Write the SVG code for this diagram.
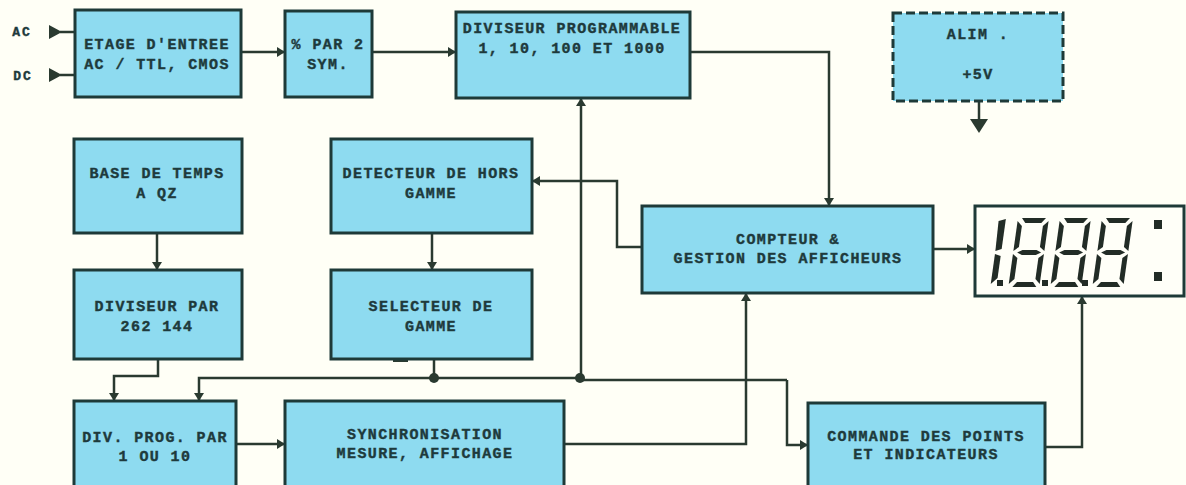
<svg xmlns="http://www.w3.org/2000/svg" xmlns:xlink="http://www.w3.org/1999/xlink" width="1186" height="485" viewBox="0 0 1186 485">
<style>
.b{fill:#8edbf0;stroke:#1e3a38;stroke-width:3}
.d{stroke-dasharray:9 4}
.w{fill:#fffff8}
text{font-family:"Liberation Mono","DejaVu Sans Mono",monospace;font-weight:700;font-size:15px;letter-spacing:1.4px;fill:#1e3a3c;text-anchor:middle;stroke:#1e3a3c;stroke-width:.4px}
text.s{font-size:13px;letter-spacing:2px}
.c{fill:none;stroke:#2a3a30;stroke-width:2.5}
.f{fill:#2a3a30}
.g{fill:#222c26}
</style>
<defs>
<marker id="a" markerUnits="userSpaceOnUse" markerWidth="9" markerHeight="10" refX="8" refY="5" orient="auto"><path d="M0 0L8 5L0 10Z" fill="#2a3a30"/></marker>
<g id="eight" class="g">
<polygon points="4,0 28,0 24,5 8,5"/>
<polygon points="0,3 5,8 5,29 0,33"/>
<polygon points="31,3 26,8 26,29 31,33"/>
<polygon points="4,34.5 9,32 23,32 28,34.5 23,37 9,37"/>
<polygon points="0,36 5,40 5,61 0,66"/>
<polygon points="31,36 26,40 26,61 31,66"/>
<polygon points="4,69 28,69 24,64 8,64"/>
</g>
</defs>
<rect width="1186" height="485" fill="#fffff6"/>
<g id="connectors">
<path class="c" d="M60 32H75M60 75H75"/>
<path class="f" d="M49 25L62 32L49 39ZM49 68L62 75L49 82Z"/>
<path class="c" marker-end="url(#a)" d="M241 52H285"/>
<path class="c" marker-end="url(#a)" d="M372 52H456"/>
<path class="c" marker-end="url(#a)" d="M690 52H829V206"/>
<path class="c" d="M979 101V120"/>
<path class="f" d="M970 119H988L979 133Z"/>
<path class="c" marker-end="url(#a)" d="M581 378V98"/>
<path class="c" marker-end="url(#a)" d="M642 247H617V181H532"/>
<path class="c" marker-end="url(#a)" d="M432 233V270"/>
<path class="c" marker-end="url(#a)" d="M157 233V270"/>
<path class="c" marker-end="url(#a)" d="M158 359V376H114V401"/>
<path class="c" marker-end="url(#a)" d="M787 380H580V378H199V401"/>
<path class="c" marker-end="url(#a)" d="M787 380V445H808"/>
<path class="c" d="M434 359V378"/>
<circle class="f" cx="434" cy="378" r="5"/>
<circle class="f" cx="580" cy="378" r="5"/>
<path class="c" marker-end="url(#a)" d="M236 444H285"/>
<path class="c" marker-end="url(#a)" d="M564 444H746V293"/>
<path class="c" marker-end="url(#a)" d="M1045 447H1082V296"/>
<path class="c" marker-end="url(#a)" d="M933 249H975"/>
<rect class="f" x="393" y="359" width="15" height="3"/>
</g>
<g id="etage"><rect class="b" x="75" y="10" width="166" height="87"/><text x="157" y="49">ETAGE D'ENTREE</text><text x="157" y="69">AC / TTL, CMOS</text></g>
<g id="div2"><rect class="b" x="285" y="11" width="87" height="86"/><text x="328" y="49">% PAR 2</text><text x="328" y="69">SYM.</text></g>
<g id="divprog"><rect class="b" x="456" y="12" width="234" height="86"/><text x="572" y="33">DIVISEUR PROGRAMMABLE</text><text x="572" y="53">1, 10, 100 ET 1000</text></g>
<g id="alim"><rect class="b d" x="893" y="13" width="170" height="88"/><text x="978" y="39">ALIM .</text><text x="978" y="79">+5V</text></g>
<g id="base"><rect class="b" x="74" y="139" width="168" height="94"/><text x="157" y="178">BASE DE TEMPS</text><text x="157" y="198">A QZ</text></g>
<g id="detecteur"><rect class="b" x="331" y="139" width="201" height="94"/><text x="431" y="178">DETECTEUR DE HORS</text><text x="431" y="198">GAMME</text></g>
<g id="compteur"><rect class="b" x="642" y="206" width="291" height="87"/><text x="788" y="244">COMPTEUR &amp;</text><text x="788" y="263">GESTION DES AFFICHEURS</text></g>
<g id="afficheur"><rect class="b w" x="975" y="206" width="209" height="90"/>
<g transform="translate(1000 218) skewX(-8)">
<polygon class="g" points="-1,3 6,1 6,31 0,33"/><polygon class="g" points="0,36 6,38 6,60 0,66"/>
<use xlink:href="#eight" href="#eight" x="18" y="0"/><use xlink:href="#eight" href="#eight" x="60" y="0"/><use xlink:href="#eight" href="#eight" x="102" y="0"/>
</g>
<rect class="g" x="997" y="280" width="6" height="6"/><rect class="g" x="1042" y="280" width="6" height="6"/><rect class="g" x="1082" y="280" width="6" height="6"/>
<rect class="g" x="1154" y="220" width="8" height="9"/><rect class="g" x="1154" y="272" width="8" height="9"/></g>
<g id="diviseur"><rect class="b" x="74" y="270" width="168" height="89"/><text x="157" y="311">DIVISEUR PAR</text><text x="157" y="331">262 144</text></g>
<g id="selecteur"><rect class="b" x="331" y="270" width="201" height="89"/><text x="431" y="311">SELECTEUR DE</text><text x="431" y="331">GAMME</text></g>
<g id="divpar"><rect class="b" x="74" y="401" width="162" height="90"/><text x="155" y="442">DIV. PROG. PAR</text><text x="155" y="461">1 OU 10</text></g>
<g id="synchro"><rect class="b" x="285" y="401" width="279" height="90"/><text x="425" y="439">SYNCHRONISATION</text><text x="425" y="458">MESURE, AFFICHAGE</text></g>
<g id="commande"><rect class="b" x="808" y="403" width="237" height="90"/><text x="926" y="441">COMMANDE DES POINTS</text><text x="926" y="459">ET INDICATEURS</text></g>
<g id="labels"><text class="s" x="22" y="36">AC</text><text class="s" x="23" y="80">DC</text></g>
</svg>
